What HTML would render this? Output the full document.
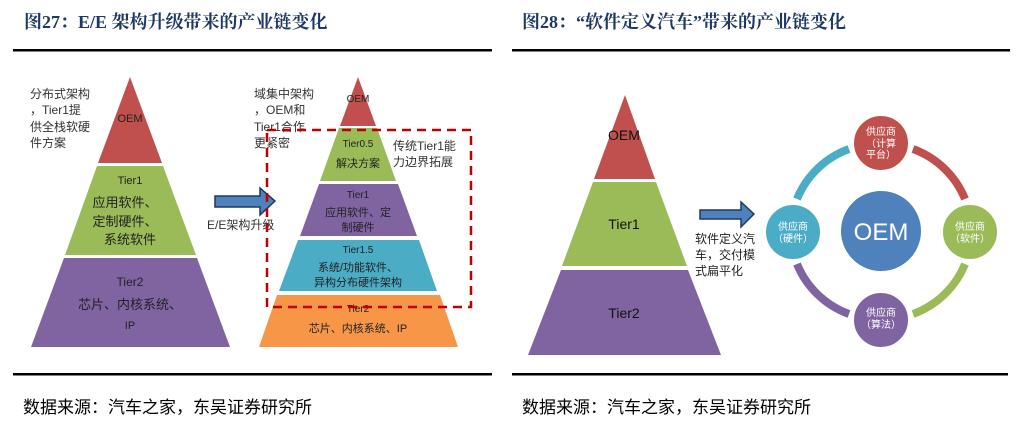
<!DOCTYPE html>
<html><head><meta charset="utf-8"><style>
html,body{margin:0;padding:0;background:#fff;}
svg{display:block;font-family:"Liberation Sans","Noto Sans CJK SC",sans-serif;}
</style></head><body>
<svg width="1025" height="431" viewBox="0 0 1025 431" xmlns="http://www.w3.org/2000/svg">
<!-- titles -->
<text x="24" y="28" font-size="18" font-weight="bold" fill="#1f3864" font-family="Liberation Serif,'Noto Serif CJK SC',serif">图27：E/E 架构升级带来的产业链变化</text>
<text x="522" y="28" font-size="18" font-weight="bold" fill="#1f3864" font-family="Liberation Serif,'Noto Serif CJK SC',serif">图28：“软件定义汽车”带来的产业链变化</text>
<rect x="13" y="49" width="479" height="2.5" fill="#000"/>
<rect x="512" y="49" width="498" height="2.5" fill="#000"/>
<rect x="13" y="373" width="479" height="2.5" fill="#000"/>
<rect x="512" y="373" width="496" height="2.5" fill="#000"/>
<text x="23" y="413" font-size="17" fill="#000">数据来源：汽车之家，东吴证券研究所</text>
<text x="522" y="413" font-size="17" fill="#000">数据来源：汽车之家，东吴证券研究所</text>

<!-- Left pyramid 1 -->
<polygon points="130,77 162,163 98,163" fill="#c0504d"/>
<polygon points="97,166 163,166 196,255 65,255" fill="#9bbb59"/>
<polygon points="64,258 197,258 230,347 31,347" fill="#8064a2"/>
<text x="130" y="122" font-size="11" text-anchor="middle" fill="#222">OEM</text>
<text x="130" y="184" font-size="11" text-anchor="middle" fill="#222">Tier1</text>
<g font-size="13" fill="#222" text-anchor="middle">
<text x="125" y="207">应用软件、</text><text x="125" y="226">定制硬件、</text><text x="130" y="244">系统软件</text></g>
<text x="130" y="286" font-size="12" text-anchor="middle" fill="#222">Tier2</text>
<text x="130" y="309" font-size="13" text-anchor="middle" fill="#222">芯片、内核系统、</text>
<text x="130" y="329" font-size="11" text-anchor="middle" fill="#222">IP</text>
<g font-size="12" fill="#333"><text x="30" y="98">分布式架构</text><text x="30" y="114">，Tier1提</text><text x="30" y="131">供全栈软硬</text><text x="30" y="147">件方案</text></g>

<!-- arrow 1 -->
<polygon points="215,196 260,196 260,188 275,201 260,215 260,207 215,207" fill="#4f81bd" stroke="#1f3864" stroke-width="1.5"/>
<text x="207" y="229" font-size="12" fill="#333">E/E架构升级</text>

<!-- pyramid 2 -->
<polygon points="358,77 376,126 340,126" fill="#c0504d"/>
<polygon points="339,128 377,128 396,181 320,181" fill="#9bbb59"/>
<polygon points="319,184 398,184 417,236 300,236" fill="#8064a2"/>
<polygon points="298,240 419,240 437,291 279,291" fill="#4bacc6"/>
<polygon points="277,295 440,295 458,347 259,347" fill="#f79646"/>
<g font-size="10" fill="#222" text-anchor="middle">
<text x="358" y="102">OEM</text>
<text x="358" y="147">Tier0.5</text>
<text x="358" y="198">Tier1</text>
<text x="358" y="253">Tier1.5</text>
<text x="358" y="312">Tier2</text></g>
<g font-size="11" fill="#222" text-anchor="middle">
<text x="358" y="167">解决方案</text>
<text x="358" y="216">应用软件、定</text><text x="358" y="231">制硬件</text>
<text x="358" y="271">系统/功能软件、</text><text x="358" y="286">异构分布硬件架构</text>
<text x="358" y="332">芯片、内核系统、IP</text></g>
<g font-size="12" fill="#333"><text x="254" y="98">域集中架构</text><text x="254" y="114">，OEM和</text><text x="254" y="131">Tier1合作</text><text x="254" y="147">更紧密</text></g>
<g font-size="12" fill="#333"><text x="393" y="150">传统Tier1能</text><text x="393" y="166">力边界拓展</text></g>
<rect x="267" y="130" width="204" height="177" fill="none" stroke="#c00000" stroke-width="2.5" stroke-dasharray="9,6"/>

<!-- right pyramid -->
<polygon points="625,95 655,179 594,179" fill="#c0504d"/>
<polygon points="593,182 656,182 687,266 562,266" fill="#9bbb59"/>
<polygon points="561,270 688,270 721,355 528,355" fill="#8064a2"/>
<g font-size="14" fill="#111" text-anchor="middle">
<text x="624" y="140">OEM</text><text x="624" y="229">Tier1</text><text x="624" y="318">Tier2</text></g>

<polygon points="700,210 741,210 741,202 754,214 741,227 741,219 700,219" fill="#4f81bd" stroke="#1f3864" stroke-width="1.5"/>
<g font-size="12" fill="#222"><text x="695" y="243">软件定义汽</text><text x="695" y="259">车，交付模</text><text x="695" y="275">式扁平化</text></g>

<!-- ring -->
<g fill="none" stroke-width="8">
<path d="M 913 149 A 89 89 0 0 1 965 199" stroke="#c0504d"/>
<path d="M 965 264 A 89 89 0 0 1 913 314" stroke="#9bbb59"/>
<path d="M 849 314 A 89 89 0 0 1 797 264" stroke="#8064a2"/>
<path d="M 797 199 A 89 89 0 0 1 849 149" stroke="#4bacc6"/>
</g>
<g stroke="#fff" stroke-width="2">
<circle cx="881" cy="231" r="41" fill="#4f81bd"/>
<circle cx="881" cy="143" r="28" fill="#c0504d"/>
<circle cx="793" cy="232" r="28" fill="#4bacc6"/>
<circle cx="970" cy="232" r="28" fill="#9bbb59"/>
<circle cx="881" cy="320" r="28" fill="#8064a2"/>
</g>
<text x="881" y="240" font-size="24" fill="#fff" text-anchor="middle">OEM</text>
<g font-size="10" fill="#fff" text-anchor="middle">
<text x="881" y="135">供应商</text><text x="881" y="147">（计算</text><text x="881" y="158">平台）</text>
<text x="793" y="230">供应商</text><text x="793" y="242">（硬件）</text>
<text x="970" y="230">供应商</text><text x="970" y="242">（软件）</text>
<text x="881" y="316">供应商</text><text x="881" y="328">（算法）</text>
</g>
</svg>
</body></html>
